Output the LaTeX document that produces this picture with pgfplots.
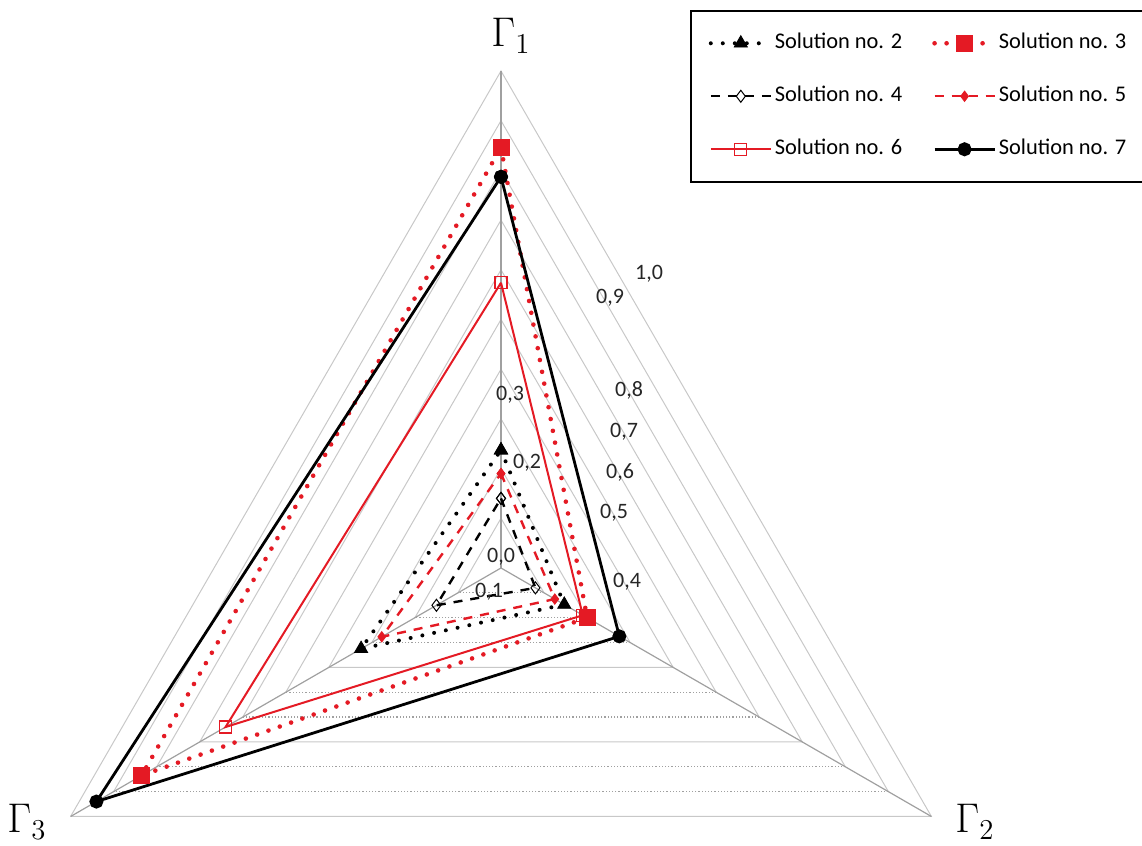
\documentclass[border=0pt]{standalone}
\usepackage{pgfplots}
\pgfplotsset{compat=1.18}
\usepackage{fontspec}
\setmainfont{Carlito}
\definecolor{myred}{RGB}{228,26,36}
\definecolor{gridc}{RGB}{200,200,200}
\definecolor{spokec}{RGB}{160,160,160}
\begin{document}
\begin{tikzpicture}
\begin{axis}[
  scale only axis, width=571pt, height=423pt,
  xmin=-1.00805, xmax=1.28974, ymin=-0.55936, ymax=1.14286,
  hide axis, clip=false,
  legend columns=2,
  legend cell align=left,
  legend image code/.code={\draw[mark repeat=2,mark phase=2] plot coordinates {(0pt,0pt) (15pt,0pt) (30pt,0pt)};},
  legend style={at={(0.6042,0.9882)}, anchor=north west, draw=black, line width=0.8pt,
     inner xsep=9pt, inner ysep=11pt, row sep=16pt,
     font=\fontsize{11.2}{13}\selectfont,
     nodes={inner xsep=1pt, inner ysep=0pt, text height=8pt, text depth=2.5pt},
     /tikz/every even column/.append style={column sep=14pt}},
]
% grid
\pgfplotsinvokeforeach{0.1,0.2,0.3,0.5,0.6,0.8,0.9}{
  \addplot[gridc, line width=0.5pt, data cs=polar, forget plot] coordinates {(210,#1) (90,#1) (-30,#1)};
  \addplot[spokec, densely dotted, line width=0.6pt, data cs=polar, forget plot] coordinates {(-30,#1) (210,#1)};
}
\pgfplotsinvokeforeach{0.4,0.7,1.0}{
  \addplot[gridc, line width=0.5pt, data cs=polar, forget plot] coordinates {(210,#1) (90,#1) (-30,#1) (210,#1)};
}
\addplot[spokec, line width=0.6pt, data cs=polar, forget plot] coordinates {(0,0) (90,1)};
\addplot[spokec, line width=0.6pt, data cs=polar, forget plot] coordinates {(0,0) (-30,1)};
\addplot[spokec, line width=0.6pt, data cs=polar, forget plot] coordinates {(0,0) (210,1)};
% series: (angle, value)  Gamma1 = 90, Gamma2 = -30, Gamma3 = 210
\addplot[black, line width=2pt, line cap=round, dash pattern=on 0pt off 6pt,
  mark=triangle*, mark size=3.8pt, mark options={solid, line width=0.4pt}, data cs=polar]
  coordinates {(90,0.237) (-30,0.147) (210,0.325) (90,0.237)};
\addlegendentry{Solution no. 2}
\addplot[myred, line width=2.3pt, line cap=round, dash pattern=on 0pt off 6pt,
  mark=square*, mark size=4pt, mark options={solid, line width=0.4pt}, data cs=polar]
  coordinates {(90,0.846) (-30,0.2) (210,0.835) (90,0.846)};
\addlegendentry{Solution no. 3}
\addplot[black, line width=1.2pt, dash pattern=on 4.5pt off 4pt,
  mark=diamond, mark size=3pt, mark options={solid, fill=white, line width=0.5pt}, data cs=polar]
  coordinates {(90,0.14) (-30,0.08) (210,0.15) (90,0.14)};
\addlegendentry{Solution no. 4}
\addplot[myred, line width=1.2pt, dash pattern=on 4.5pt off 4pt,
  mark=diamond*, mark size=2.6pt, mark options={solid, line width=0.4pt}, data cs=polar]
  coordinates {(90,0.19) (-30,0.125) (210,0.277) (90,0.19)};
\addlegendentry{Solution no. 5}
\addplot[myred, line width=1pt,
  mark=square, mark size=3pt, mark options={solid, fill=white, line width=0.6pt}, data cs=polar]
  coordinates {(90,0.574) (-30,0.19) (210,0.64) (90,0.574)};
\addlegendentry{Solution no. 6}
\addplot[black, line width=1.4pt,
  mark=*, mark size=2.8pt, mark options={solid}, data cs=polar]
  coordinates {(90,0.787) (-30,0.275) (210,0.94) (90,0.787)};
\addlegendentry{Solution no. 7}
\end{axis}
\begin{scope}[x=0.5pt,y=-0.5pt,shift={(0,423pt)}]
  \node[anchor=base west, inner sep=0pt, font=\fontsize{20.5}{24}\selectfont] at (491,47) {$\Gamma_1$};
  \node[anchor=base west, inner sep=0pt, font=\fontsize{20.5}{24}\selectfont] at (7,833) {$\Gamma_3$};
  \node[anchor=base west, inner sep=0pt, font=\fontsize{20.5}{24}\selectfont] at (955,833) {$\Gamma_2$};
  \begin{scope}[every node/.style={inner sep=0pt, font=\fontsize{11}{13}\selectfont, text=black!85}]
    \node at (501,557) {0,0};
    \node at (489,592) {0,1};
    \node at (527,463) {0,2};
    \node at (510,395) {0,3};
    \node at (627,582) {0,4};
    \node at (614,513) {0,5};
    \node at (620,472) {0,6};
    \node at (624,432) {0,7};
    \node at (629,390) {0,8};
    \node at (610,298) {0,9};
    \node at (649,274) {1,0};
  \end{scope}
\end{scope}
\pgfresetboundingbox
\path (0,0) rectangle (571pt,423pt);
\end{tikzpicture}
\end{document}
